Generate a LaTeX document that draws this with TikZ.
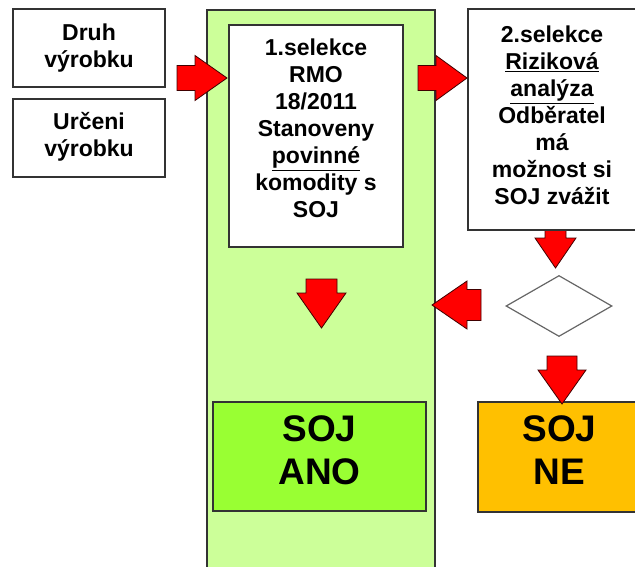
\documentclass[tikz,border=0pt]{standalone}
\usepackage{fontspec}
\setmainfont{Liberation Sans}
\usetikzlibrary{shapes.geometric}
\definecolor{panelgreen}{HTML}{CCFF99}
\definecolor{anogreen}{HTML}{99FF33}
\definecolor{neorange}{HTML}{FFC000}
\definecolor{arrred}{HTML}{FF0000}
\definecolor{edgegrey}{HTML}{333333}
\tikzset{
  box/.style={draw=edgegrey, line width=1.4pt, fill=white, inner sep=0pt},
  smalltxt/.style={font=\fontsize{23}{27}\selectfont\bfseries, align=center, inner sep=0pt},
  bigtxt/.style={font=\fontsize{37}{43}\selectfont\bfseries, align=center, inner sep=0pt},
  blockarrow/.style={fill=arrred, draw=black!75!red, line width=0.8pt, line join=miter},
}
\begin{document}
\begin{tikzpicture}[x=1pt,y=-1pt]
\useasboundingbox (0,0) rectangle (635,566);

% green panel
\node[draw=edgegrey, line width=1.4pt, fill=panelgreen, inner sep=0pt,
      minimum width=228pt, minimum height=570pt] (panel) at (321,295) {};

% left boxes
\node[box, minimum width=152pt, minimum height=78pt] (druh) at (89,48) {};
\node[smalltxt] (druhtxt) at (89,48) {Druh\\výrobku};
\node[box, minimum width=152pt, minimum height=78pt] (urceni) at (89,138) {};
\node[smalltxt] (urcenitxt) at (89,137) {Určeni\\výrobku};

% selection 1 box
\node[box, line width=1.2pt, minimum width=174pt, minimum height=222pt] (sel1) at (316,136) {};
\node[smalltxt] (sel1txt) at (316,128.5) {1.selekce\\RMO\\18/2011\\Stanoveny\\\underline{povinné}\\komodity s\\SOJ};

% down arrow from selection 2 to diamond (under box)
\filldraw[blockarrow] (545,224) -- (566,224) -- (566,238) -- (576,238) -- (555.5,268) -- (535,238) -- (545,238) -- cycle;

% selection 2 box
\node[box, line width=1.2pt, minimum width=170pt, minimum height=221pt] (sel2) at (553,119.5) {};
\node[smalltxt] (sel2txt) at (552,115.5) {2.selekce\\\underline{Riziková}\\\underline{analýza}\\Odběratel\\má\\možnost si\\SOJ zvážit};

% diamond
\node[draw=black!60, line width=1.2pt, diamond, inner sep=0pt,
      minimum width=106pt, minimum height=61pt] (dia) at (559,306) {};

% result boxes
\node[draw=edgegrey, line width=1.2pt, fill=anogreen, inner sep=0pt,
      minimum width=213pt, minimum height=109pt] (ano) at (319.5,456.5) {};
\node[bigtxt] (anotxt) at (319.5,450) {SOJ\\ANO};
\node[draw=edgegrey, line width=1.2pt, fill=neorange, inner sep=0pt,
      minimum width=164pt, minimum height=110pt] (ne) at (560,457) {};
\node[bigtxt] (netxt) at (559.5,450) {SOJ\\NE};

% right arrow: input boxes -> selection 1
\filldraw[blockarrow] (177,65.5) -- (195,65.5) -- (195,55.5) -- (227,78) -- (195,100.5) -- (195,90.5) -- (177,90.5) -- cycle;
% right arrow: selection 1 -> selection 2
\filldraw[blockarrow] (418,65.5) -- (436,65.5) -- (436,55.5) -- (467,78) -- (436,100.5) -- (436,90.5) -- (418,90.5) -- cycle;
% left arrow: diamond -> panel
\filldraw[blockarrow] (481,289.5) -- (467,289.5) -- (467,281) -- (432,305) -- (467,329) -- (467,320.5) -- (481,320.5) -- cycle;
% down arrow inside panel
\filldraw[blockarrow] (306,279) -- (337,279) -- (337,293) -- (346,293) -- (321.5,328) -- (297,293) -- (306,293) -- cycle;
% down arrow: diamond -> SOJ NE
\filldraw[blockarrow] (547,356) -- (577,356) -- (577,370) -- (586,370) -- (562,404) -- (538,370) -- (547,370) -- cycle;
\end{tikzpicture}
\end{document}
